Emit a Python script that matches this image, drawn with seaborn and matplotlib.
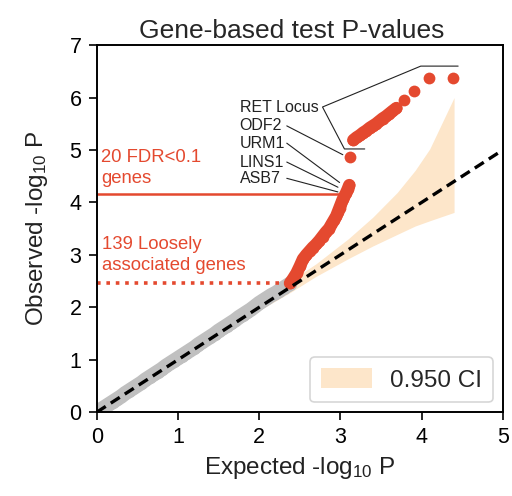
import numpy as np
import pandas as pd
import matplotlib
matplotlib.use("Agg")
import matplotlib.pyplot as plt
import seaborn as sns

# values
null_expected = [0.00, 0.05, 0.10, 0.15, 0.20, 0.25, 0.30, 0.35, 0.40, 0.45, 0.50, 0.55,
                 0.60, 0.65, 0.70, 0.75, 0.80, 0.85, 0.90, 0.95, 1.00, 1.05, 1.10, 1.15,
                 1.20, 1.25, 1.30, 1.35, 1.40, 1.45, 1.50, 1.55, 1.60, 1.65, 1.70, 1.75,
                 1.80, 1.85, 1.90, 1.95, 2.00, 2.05, 2.10, 2.15, 2.20, 2.25, 2.30, 2.35, 2.38]
null_observed = [0.00, 0.05, 0.10, 0.15, 0.20, 0.25, 0.30, 0.36, 0.41, 0.46, 0.51, 0.56,
                 0.62, 0.67, 0.72, 0.77, 0.82, 0.88, 0.93, 0.98, 1.03, 1.08, 1.13, 1.18,
                 1.23, 1.29, 1.34, 1.39, 1.44, 1.49, 1.55, 1.60, 1.65, 1.70, 1.75, 1.81,
                 1.86, 1.91, 1.96, 2.02, 2.08, 2.13, 2.18, 2.23, 2.27, 2.32, 2.37, 2.42, 2.45]

loose_expected = [2.38, 2.42, 2.46, 2.50, 2.54, 2.58, 2.62, 2.66, 2.70, 2.74, 2.78, 2.82,
                  2.86, 2.89, 2.92, 2.95, 2.97, 2.99, 3.01, 3.03, 3.05, 3.07, 3.09, 3.11]
loose_observed = [2.46, 2.55, 2.65, 2.78, 2.92, 3.00, 3.07, 3.14, 3.20, 3.27, 3.35, 3.43,
                  3.50, 3.58, 3.66, 3.74, 3.82, 3.90, 3.98, 4.06, 4.12, 4.18, 4.25, 4.33]

odf2_expected = [3.12]
odf2_observed = [4.87]

ret_expected = [3.16, 3.20, 3.24, 3.28, 3.32, 3.36, 3.40, 3.44, 3.48, 3.52, 3.56,
                3.60, 3.64, 3.69]
ret_observed = [5.19, 5.24, 5.28, 5.33, 5.37, 5.42, 5.46, 5.50, 5.55, 5.60, 5.64,
                5.69, 5.74, 5.80]
ret_top_expected = [3.78, 3.91, 4.09, 4.39]
ret_top_observed = [5.95, 6.13, 6.38, 6.38]

ci_x = [0.0, 1.0, 2.0, 2.4, 2.7, 3.1, 3.4, 3.7, 3.92, 4.1, 4.4]
ci_low = [0.0, 0.97, 1.94, 2.30, 2.59, 2.93, 3.17, 3.39, 3.55, 3.65, 3.81]
ci_high = [0.0, 1.03, 2.07, 2.52, 2.83, 3.31, 3.72, 4.19, 4.61, 5.02, 6.0]

diag = [0, 5]

gene_labels = ["RET Locus", "ODF2", "URM1", "LINS1", "ASB7"]
label_x = 1.76
label_y = [5.82, 5.46, 5.13, 4.77, 4.46]
# where the pointer lines end, per gene
pointer_x = [None, 3.03, 2.99, 2.97, 2.97]
pointer_y = [None, 4.91, 4.38, 4.29, 4.20]

fdr_level = 4.16
loose_level = 2.46

RED = "#e4492f"
GRAY = "#c0c0c0"
PEACH = "#fde6ca"

sns.set_style("ticks")
plt.rcParams["font.family"] = ["Liberation Sans", "DejaVu Sans"]
plt.rcParams["mathtext.fontset"] = "custom"
plt.rcParams["mathtext.rm"] = "Liberation Sans"
plt.rcParams["mathtext.it"] = "Liberation Sans:italic"

fig = plt.figure(figsize=(5.12, 4.96), dpi=100)
ax = fig.add_axes([0.189, 0.169, 0.793, 0.740])

ax.fill_between(ci_x, ci_low, ci_high, color=PEACH, lw=0, label="0.950 CI", zorder=1)

null_df = pd.DataFrame({"expected": null_expected, "observed": null_observed})
loose_df = pd.DataFrame({"expected": loose_expected, "observed": loose_observed})
ret_df = pd.DataFrame({"expected": ret_expected, "observed": ret_observed})
sig_df = pd.DataFrame({"expected": loose_expected + odf2_expected + ret_expected + ret_top_expected,
                       "observed": loose_observed + odf2_observed + ret_observed + ret_top_observed})

# the dense point clouds read as a thick smooth band
sns.lineplot(data=null_df, x="expected", y="observed", color=GRAY, lw=10.5,
             sort=False, ax=ax, zorder=2, solid_capstyle="round")
for seg in (loose_df, ret_df):
    sns.lineplot(data=seg, x="expected", y="observed", color=RED, lw=9,
                 sort=False, ax=ax, zorder=3, solid_capstyle="round")
sns.scatterplot(data=null_df, x="expected", y="observed", color=GRAY, s=90,
                linewidth=0, ax=ax, zorder=2)
sns.scatterplot(data=sig_df, x="expected", y="observed", color=RED, s=72,
                linewidth=0, ax=ax, zorder=3)

ax.plot(diag, diag, color="black", ls=(0, (3.2, 1.8)), lw=2.4, zorder=4)

# threshold lines
ax.plot([0, 2.99], [fdr_level, fdr_level], color=RED, lw=1.8, zorder=2)
ax.plot([0, 2.29], [loose_level, loose_level], color=RED, lw=2.6, ls=(0, (1, 1.6)), zorder=2)

ax.text(0.05, 4.66, "20 FDR<0.1\ngenes", color=RED, fontsize=13.3, va="center",
        linespacing=1.3)
ax.text(0.07, 3.0, "139 Loosely\nassociated genes", color=RED, fontsize=13.3,
        va="center", linespacing=1.3)

for name, ty, px, py in zip(gene_labels, label_y, pointer_x, pointer_y):
    ax.text(label_x, ty, name, fontsize=11.5, va="center", color="#222222")
    if px is not None:
        ax.plot([2.34, px], [ty, py], color="#222222", lw=0.8)

# bracket for the RET locus
ax.plot([4.45, 3.99, 2.78, 3.05, 3.30], [6.6, 6.6, 5.82, 5.02, 5.02],
        color="#222222", lw=0.8)

ax.set_xlim(0, 5)
ax.set_ylim(0, 7)
ax.set_xticks(range(0, 6))
ax.set_yticks(range(0, 8))
ax.tick_params(labelsize=15.5, length=6, width=1.2, colors="black", pad=5)
for sp in ax.spines.values():
    sp.set_linewidth(1.4)
    sp.set_color("black")

ax.set_title("Gene-based test P-values", fontsize=19, pad=5, x=0.48)
ax.set_xlabel("Expected -log$_{10}$ P", fontsize=17.5, labelpad=5, color="#222222")
ax.set_ylabel("Observed -log$_{10}$ P", fontsize=17.5, labelpad=14, color="#222222")

leg = ax.legend(loc="lower right", fontsize=17.5, frameon=True, fancybox=True,
                handlelength=2.1, handleheight=0.85, borderpad=0.45,
                handletextpad=0.75, borderaxespad=0.4)
leg.get_frame().set_edgecolor("#cccccc")
leg.get_frame().set_linewidth(1.2)

fig.savefig("out.png", dpi=100)
